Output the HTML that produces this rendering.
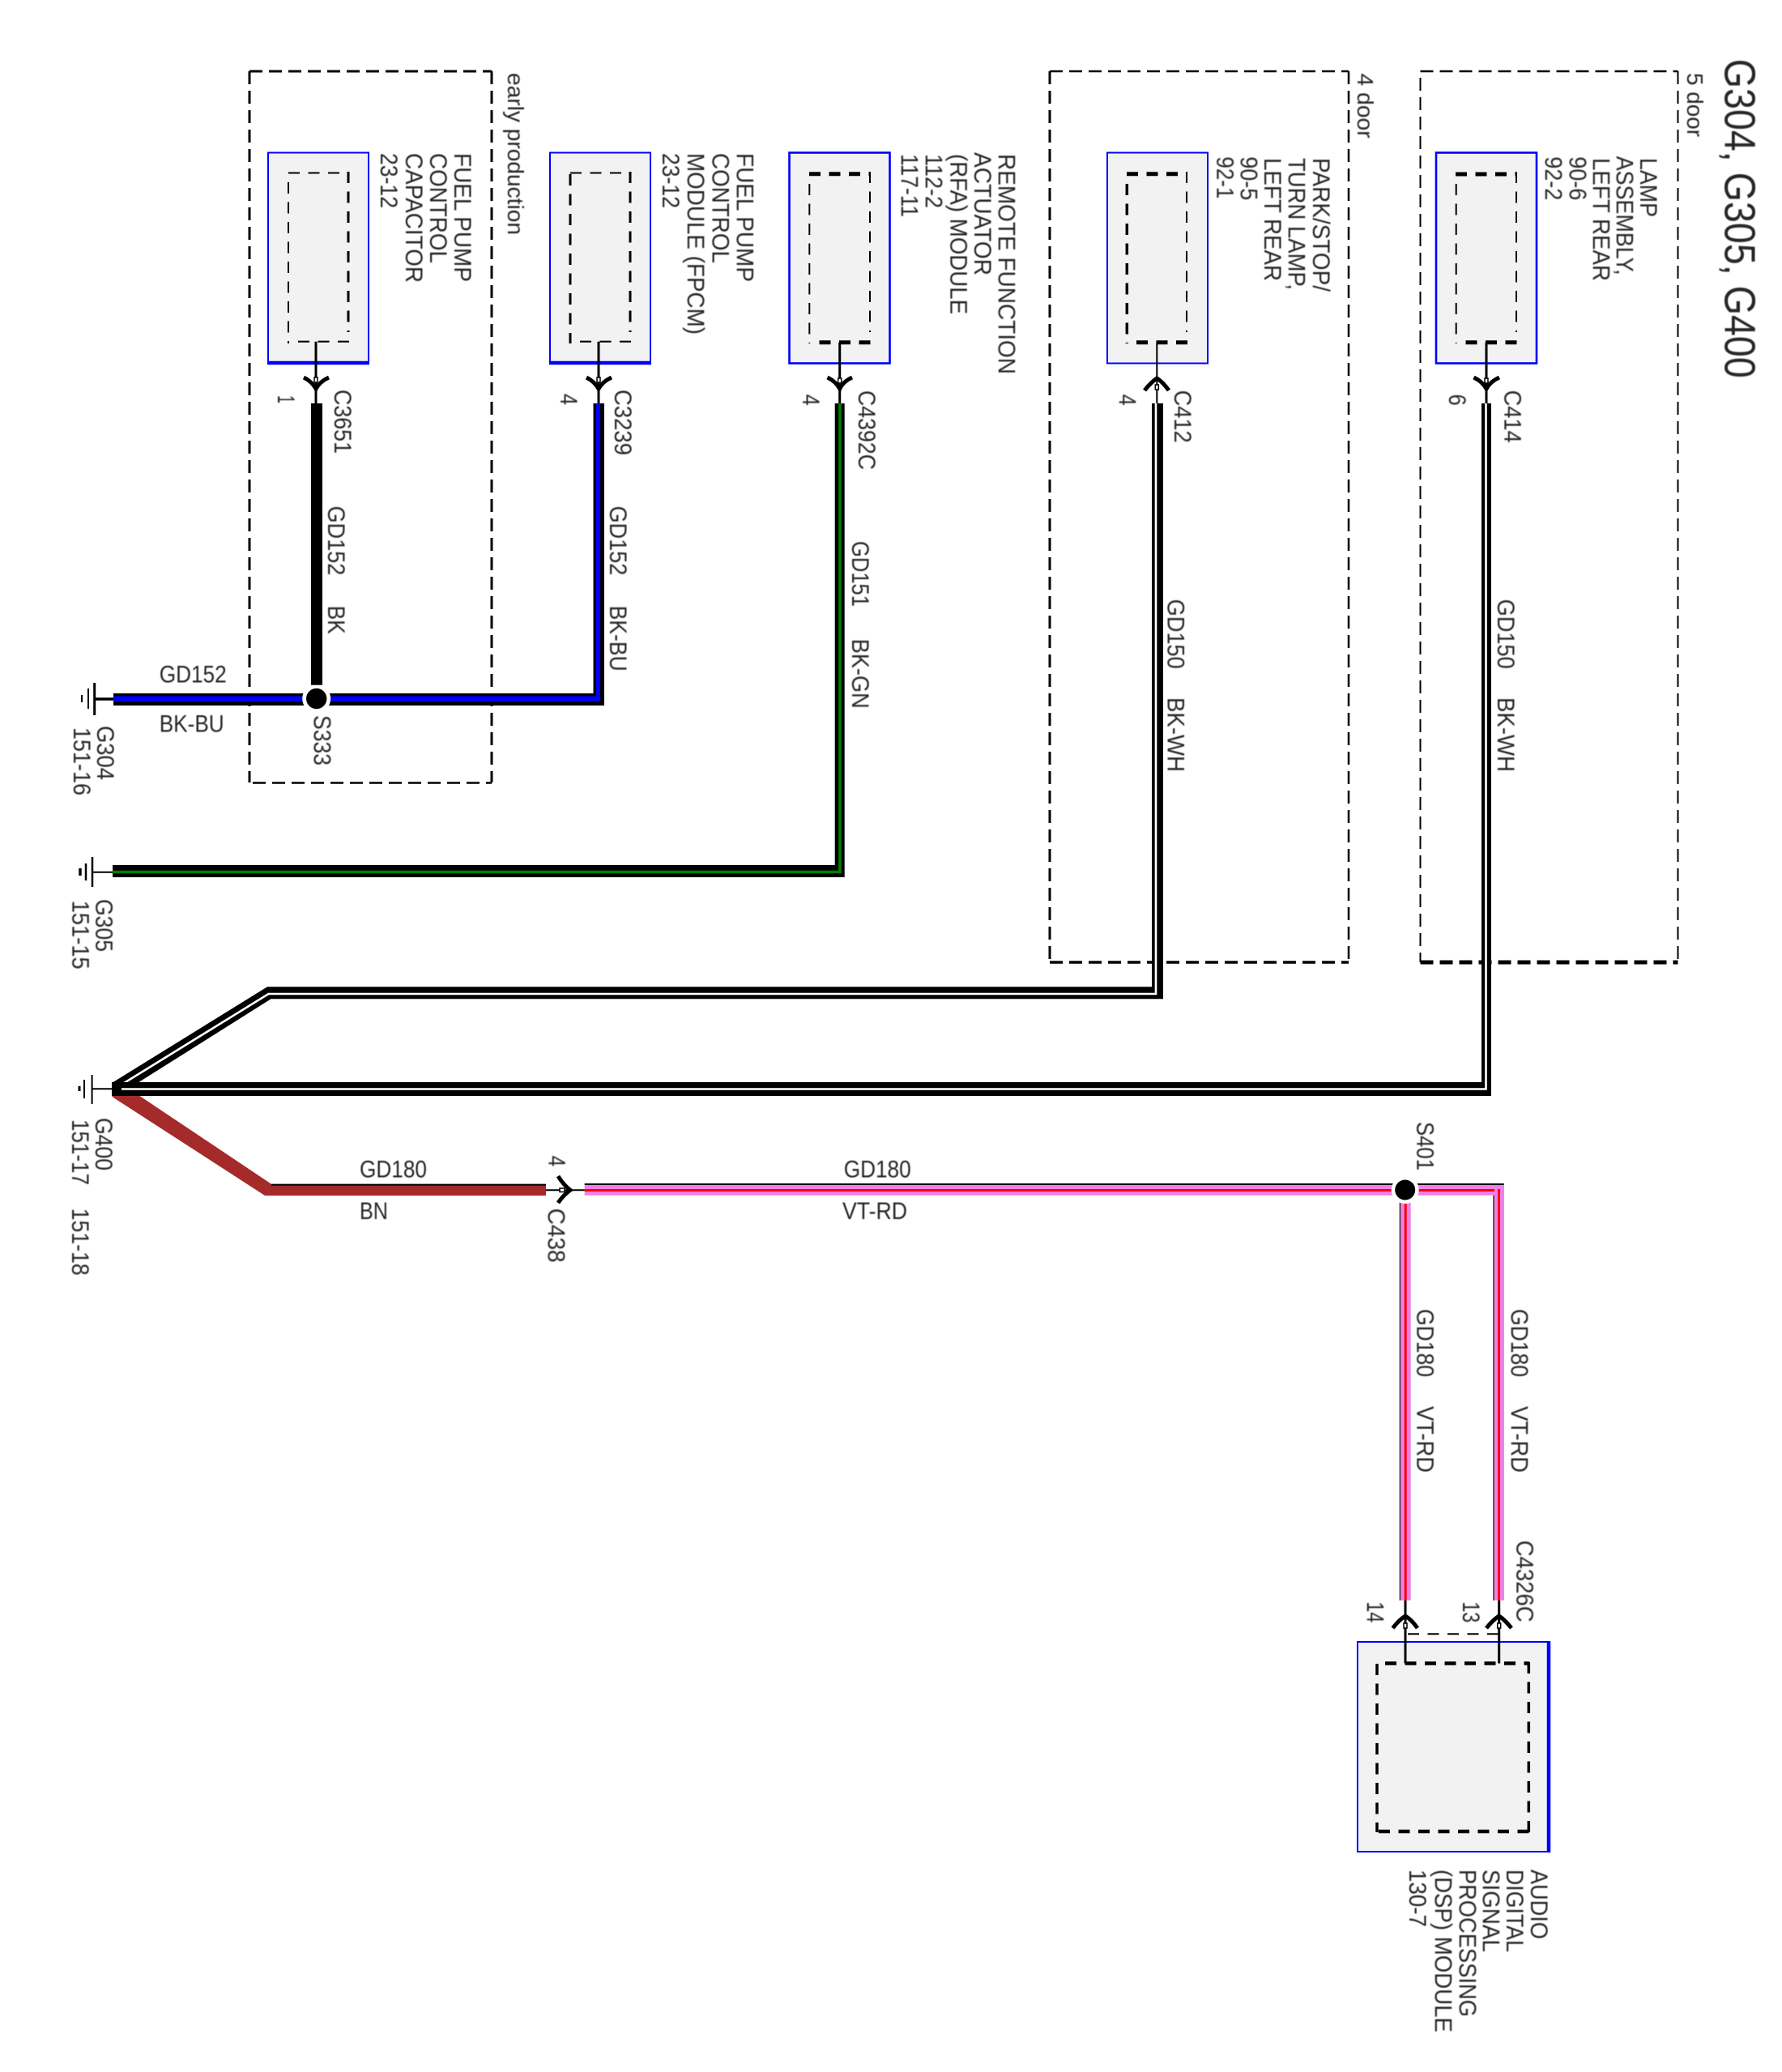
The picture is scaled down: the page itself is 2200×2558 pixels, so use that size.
<!DOCTYPE html>
<html><head><meta charset="utf-8"><title>G304, G305, G400</title>
<style>html,body{margin:0;padding:0;background:#fff}svg{display:block}text{font-family:"Liberation Sans",Arial,sans-serif;font-size:30px;fill:#262626;filter:blur(.4px)}</style>
</head><body>
<svg xmlns="http://www.w3.org/2000/svg" width="2200" height="2558" viewBox="0 0 2200 2558">
<rect width="2200" height="2558" fill="#fff"/>
<!-- option dashed boxes -->
<g fill="none" stroke="#000" stroke-dasharray="16 8">
<path d="M308,88H607" stroke-width="3"/><path d="M308,88V966" stroke-width="3"/><path d="M607,88V966" stroke-width="3"/><path d="M312,966.5H607" stroke-width="2.5"/>
<path d="M1296,88H1665" stroke-width="2.5"/><path d="M1296,88V1188" stroke-width="3"/><path d="M1665,88V1188" stroke-width="2.5"/><path d="M1296,1188H1665" stroke-width="3.5"/>
<path d="M1753.5,88H2071.5" stroke-width="2.5"/><path d="M1753.5,96V1188" stroke-width="2"/><path d="M2071.5,88V1188" stroke-width="2"/><path d="M1753.5,1188H2071.5" stroke-width="5"/>
</g>
<!-- modules -->
<g fill="#f2f2f2" stroke="#0000ff">
<rect x="331" y="188.5" width="124" height="260" stroke-width="2"/>
<rect x="679" y="188.5" width="124" height="260" stroke-width="2"/>
<rect x="974.5" y="188.5" width="124" height="260" stroke-width="2.6"/>
<rect x="1367" y="188.5" width="124" height="260" stroke-width="2"/>
<rect x="1773" y="188.5" width="124" height="260" stroke-width="2.6"/>
<rect x="1676" y="2027" width="237" height="259" stroke-width="2"/>
</g>
<path d="M330,448H456M678,448H804" stroke="#0000ff" stroke-width="4.5" fill="none"/>
<path d="M1912,2026V2287" stroke="#0000ff" stroke-width="4.5" fill="none"/>
<!-- inner dashed -->
<g fill="none" stroke="#000" stroke-dasharray="14 10.5">
<path d="M356,213.5H430" stroke-width="2"/><path d="M368,421.7H432" stroke-width="2.2"/><path d="M356,225V424" stroke-width="2"/><path d="M430,212V410" stroke-width="3"/>
<path d="M704,213.5H778" stroke-width="2"/><path d="M716,421.7H780" stroke-width="2.2"/><path d="M704,215V424" stroke-width="3"/><path d="M778,212V410" stroke-width="3"/>
<path d="M999,214.7H1074" stroke-width="5"/><path d="M1011.5,422.7H1076" stroke-width="5"/><path d="M999.3,227V424" stroke-width="2"/><path d="M1074,212V410" stroke-width="2"/>
<path d="M1391,214.7H1466" stroke-width="5"/><path d="M1403,422.7H1468" stroke-width="5"/><path d="M1391.3,227V424" stroke-width="3.5"/><path d="M1465,212V410" stroke-width="2"/>
<path d="M1797,215H1872" stroke-width="5"/><path d="M1809.5,422.7H1874" stroke-width="5"/><path d="M1797.7,227V424" stroke-width="2"/><path d="M1872,212V410" stroke-width="2"/>
<path d="M1710,2053.5H1888" stroke-width="4.5"/><path d="M1702,2261H1889" stroke-width="4.5"/><path d="M1700,2054V2262" stroke-width="3.5"/><path d="M1887.3,2052V2262" stroke-width="3.5"/>
<path d="M1738,2017.3H1850" stroke-width="2"/>
</g>
<!-- stems -->
<g fill="none" stroke="#000" stroke-width="3">
<path d="M390,421.7V498M739,421.7V498M1036.7,422.7V498M1835,422.7V498M1735,1975V2053.5M1850.7,1975V2053.5"/>
<path d="M1428.3,422.7V498" stroke-width="2"/>
<path d="M673,1469.3H722" stroke-width="2"/>
</g>
<!-- chevrons -->
<g fill="none" stroke="#000" stroke-width="5">
<path d="M375,466Q385,471 390,480Q395,471 406,466"/>
<path d="M724,466Q734,471 739,480Q744,471 755,466"/>
<path d="M1021.5,466Q1032,471 1036.7,480Q1041,471 1052,466"/>
<path d="M1819.5,466Q1830,471 1835,480Q1840,471 1851,466"/>
<path d="M1413,482Q1421,472 1428.3,467Q1436,472 1443,482"/>
<path d="M1719.5,2010Q1727,2000 1735,1995Q1743,2000 1750,2010"/>
<path d="M1835,2010Q1843,2000 1850.7,1995Q1858,2000 1866,2010"/>
<path d="M689,1452Q695,1462 704,1469.3Q695,1476 689,1485"/>
</g>
<g fill="#fff" stroke="#000" stroke-width="1.5">
<rect x="388" y="466" width="4" height="6"/><rect x="737" y="466" width="4" height="6"/><rect x="1034.7" y="467" width="4" height="6"/><rect x="1833" y="467" width="4" height="6"/>
<rect x="1426.3" y="475" width="4" height="6"/><rect x="1733" y="2004" width="4" height="6"/><rect x="1848.7" y="2004" width="4" height="6"/><rect x="691" y="1467" width="6" height="4.5"/>
</g>
<!-- grounds -->
<g stroke="#000" fill="none">
<path d="M109,850V875" stroke-width="2"/><path d="M116.7,843V883" stroke-width="3"/><path d="M101,858V867" stroke-width="2"/><path d="M117,863H140" stroke-width="3.5"/>
<path d="M114,1058V1095M106,1066V1087" stroke-width="2.5"/><path d="M99,1072V1081" stroke-width="3.5"/><path d="M114,1076.7H139" stroke-width="2"/>
<path d="M113.6,1327V1363M104,1333V1356" stroke-width="2"/><path d="M98,1341V1347" stroke-width="3"/><path d="M113.6,1344.3H139" stroke-width="2"/>
</g>
<!-- G400 wires -->
<polygon points="138,1338 138,1353 140,1355 327,1476 674,1476 674,1461.7 335,1461.7 171,1352 170,1340" fill="#a52a2a"/>
<rect x="335" y="1461.7" width="339" height="2" fill="#000"/>
<polygon points="1422,498 1436,498 1436,1233.3 334.5,1233.3 165,1340 138,1340 138,1337 330,1218.3 1422,1218.3" fill="#000"/>
<path d="M1427,498V1227H331.5L150,1339" fill="none" stroke="#fff" stroke-width="2.6"/>
<polygon points="1829,498 1841,498 1841,1353 138,1353 138,1336 1829,1336" fill="#000"/>
<path d="M1834.5,498V1344.5H150" fill="none" stroke="#fff" stroke-width="2.6"/>
<!-- G305 wire -->
<polygon points="139,1068 1030.7,1068 1030.7,498 1042.7,498 1042.7,1083 139,1083" fill="#000"/>
<path d="M139,1076.5H1037V498" fill="none" stroke="#008000" stroke-width="3.6"/>
<!-- G304 wires -->
<polygon points="140,856 732.5,856 732.5,498 746,498 746,871 140,871" fill="#000"/>
<rect x="140" y="859.5" width="601" height="6.5" fill="#0000ff"/>
<rect x="736" y="498" width="5" height="368" fill="#0000ff"/>
<circle cx="390.7" cy="862.5" r="17.5" fill="#fff"/>
<rect x="384" y="498" width="14" height="347.7" fill="#000"/>
<circle cx="390.7" cy="862.5" r="12.7" fill="#000"/>
<!-- pink wires -->
<rect x="721.7" y="1461" width="1135" height="2" fill="#000"/>
<rect x="721.7" y="1463" width="1135" height="12.7" fill="#f080e8"/>
<rect x="721.7" y="1468" width="1130" height="3" fill="#f00"/>
<rect x="1727.7" y="1469" width="14" height="506.7" fill="#f080e8"/>
<rect x="1727.7" y="1469" width="1.5" height="506.7" fill="#333"/>
<rect x="1733.7" y="1469" width="3" height="506.7" fill="#f00"/>
<rect x="1843.3" y="1476" width="13.7" height="499.7" fill="#f080e8"/>
<rect x="1845" y="1463" width="12" height="13" fill="#f080e8"/>
<rect x="1843.3" y="1475.7" width="1.5" height="500" fill="#333"/>
<rect x="1849" y="1468" width="3" height="507.7" fill="#f00"/>
<circle cx="1734.7" cy="1469" r="17" fill="#fff"/>
<circle cx="1734.7" cy="1469" r="12.5" fill="#000"/>
<!-- title -->
<text transform="translate(2129.5,72.7) rotate(90)" textLength="394" lengthAdjust="spacingAndGlyphs" style="font-size:54px">G304, G305, G400</text>
<!-- vertical labels -->
<g>
<text transform="translate(627,90) rotate(90)" textLength="200" lengthAdjust="spacingAndGlyphs" style="font-size:28px">early production</text>
<text transform="translate(1676,90.6) rotate(90)" textLength="80" lengthAdjust="spacingAndGlyphs" style="font-size:28px">4 door</text>
<text transform="translate(2083,90) rotate(90)" textLength="79" lengthAdjust="spacingAndGlyphs" style="font-size:28px">5 door</text>

<text transform="translate(561,189) rotate(90)" textLength="159" lengthAdjust="spacingAndGlyphs">FUEL PUMP</text>
<text transform="translate(531,189) rotate(90)" textLength="136" lengthAdjust="spacingAndGlyphs">CONTROL</text>
<text transform="translate(501,189) rotate(90)" textLength="160" lengthAdjust="spacingAndGlyphs">CAPACITOR</text>
<text transform="translate(470,189) rotate(90)" textLength="68" lengthAdjust="spacingAndGlyphs">23-12</text>

<text transform="translate(909.6,189) rotate(90)" textLength="159" lengthAdjust="spacingAndGlyphs">FUEL PUMP</text>
<text transform="translate(879.5,189) rotate(90)" textLength="136" lengthAdjust="spacingAndGlyphs">CONTROL</text>
<text transform="translate(848.8,189) rotate(90)" textLength="224" lengthAdjust="spacingAndGlyphs">MODULE (FPCM)</text>
<text transform="translate(818,189) rotate(90)" textLength="68" lengthAdjust="spacingAndGlyphs">23-12</text>

<text transform="translate(1232.7,190) rotate(90)" textLength="272" lengthAdjust="spacingAndGlyphs">REMOTE FUNCTION</text>
<text transform="translate(1203,188) rotate(90)" textLength="152" lengthAdjust="spacingAndGlyphs">ACTUATOR</text>
<text transform="translate(1173.3,190) rotate(90)" textLength="198" lengthAdjust="spacingAndGlyphs">(RFA) MODULE</text>
<text transform="translate(1142.7,190) rotate(90)" textLength="67" lengthAdjust="spacingAndGlyphs">112-2</text>
<text transform="translate(1112.7,190) rotate(90)" textLength="78" lengthAdjust="spacingAndGlyphs">117-11</text>

<text transform="translate(1621,195) rotate(90)" textLength="165" lengthAdjust="spacingAndGlyphs">PARK/STOP/</text>
<text transform="translate(1590.7,195) rotate(90)" textLength="163" lengthAdjust="spacingAndGlyphs">TURN LAMP,</text>
<text transform="translate(1561,195) rotate(90)" textLength="152" lengthAdjust="spacingAndGlyphs">LEFT REAR</text>
<text transform="translate(1531.7,193.3) rotate(90)" textLength="54" lengthAdjust="spacingAndGlyphs">90-5</text>
<text transform="translate(1502.3,193.3) rotate(90)" textLength="52" lengthAdjust="spacingAndGlyphs">92-1</text>

<text transform="translate(2025,195) rotate(90)" textLength="73" lengthAdjust="spacingAndGlyphs">LAMP</text>
<text transform="translate(1995.7,192.7) rotate(90)" textLength="147" lengthAdjust="spacingAndGlyphs">ASSEMBLY,</text>
<text transform="translate(1966.7,195) rotate(90)" textLength="152" lengthAdjust="spacingAndGlyphs">LEFT REAR</text>
<text transform="translate(1937.7,193.3) rotate(90)" textLength="54" lengthAdjust="spacingAndGlyphs">90-6</text>
<text transform="translate(1907.7,193.3) rotate(90)" textLength="54" lengthAdjust="spacingAndGlyphs">92-2</text>

<text transform="translate(1890,2308) rotate(90)" textLength="86" lengthAdjust="spacingAndGlyphs">AUDIO</text>
<text transform="translate(1860,2308) rotate(90)" textLength="102" lengthAdjust="spacingAndGlyphs">DIGITAL</text>
<text transform="translate(1830.7,2308) rotate(90)" textLength="102" lengthAdjust="spacingAndGlyphs">SIGNAL</text>
<text transform="translate(1801.7,2308) rotate(90)" textLength="182" lengthAdjust="spacingAndGlyphs">PROCESSING</text>
<text transform="translate(1771.7,2308) rotate(90)" textLength="201" lengthAdjust="spacingAndGlyphs">(DSP) MODULE</text>
<text transform="translate(1740,2308) rotate(90)" textLength="71" lengthAdjust="spacingAndGlyphs">130-7</text>

<text transform="translate(413,481) rotate(90)" textLength="79" lengthAdjust="spacingAndGlyphs">C3651</text>
<text transform="translate(343,488) rotate(90)" textLength="10" lengthAdjust="spacingAndGlyphs">1</text>
<text transform="translate(759,481) rotate(90)" textLength="81" lengthAdjust="spacingAndGlyphs">C3239</text>
<text transform="translate(692,486) rotate(90)" textLength="14" lengthAdjust="spacingAndGlyphs">4</text>
<text transform="translate(1060,482) rotate(90)" textLength="98" lengthAdjust="spacingAndGlyphs">C4392C</text>
<text transform="translate(991,486.7) rotate(90)" textLength="14" lengthAdjust="spacingAndGlyphs">4</text>
<text transform="translate(1450,481.7) rotate(90)" textLength="65" lengthAdjust="spacingAndGlyphs">C412</text>
<text transform="translate(1381.7,486.7) rotate(90)" textLength="14" lengthAdjust="spacingAndGlyphs">4</text>
<text transform="translate(1857.3,481.7) rotate(90)" textLength="65" lengthAdjust="spacingAndGlyphs">C414</text>
<text transform="translate(1789,486.7) rotate(90)" textLength="14" lengthAdjust="spacingAndGlyphs">6</text>

<text transform="translate(405,624.6) rotate(90)" textLength="85.7" lengthAdjust="spacingAndGlyphs">GD152</text>
<text transform="translate(405,747.7) rotate(90)" textLength="35" lengthAdjust="spacingAndGlyphs">BK</text>
<text transform="translate(753,624.6) rotate(90)" textLength="85.7" lengthAdjust="spacingAndGlyphs">GD152</text>
<text transform="translate(753,747.7) rotate(90)" textLength="81" lengthAdjust="spacingAndGlyphs">BK-BU</text>
<text transform="translate(1052,668) rotate(90)" textLength="81" lengthAdjust="spacingAndGlyphs">GD151</text>
<text transform="translate(1052,788.7) rotate(90)" textLength="86" lengthAdjust="spacingAndGlyphs">BK-GN</text>
<text transform="translate(1441.5,739.7) rotate(90)" textLength="86" lengthAdjust="spacingAndGlyphs">GD150</text>
<text transform="translate(1441.5,861) rotate(90)" textLength="92" lengthAdjust="spacingAndGlyphs">BK-WH</text>
<text transform="translate(1849,739.7) rotate(90)" textLength="86" lengthAdjust="spacingAndGlyphs">GD150</text>
<text transform="translate(1849,861) rotate(90)" textLength="92" lengthAdjust="spacingAndGlyphs">BK-WH</text>

<text transform="translate(120,896) rotate(90)" textLength="67" lengthAdjust="spacingAndGlyphs">G304</text>
<text transform="translate(91,898) rotate(90)" textLength="84" lengthAdjust="spacingAndGlyphs">151-16</text>
<text transform="translate(118.3,1110) rotate(90)" textLength="65" lengthAdjust="spacingAndGlyphs">G305</text>
<text transform="translate(89.3,1111.7) rotate(90)" textLength="85" lengthAdjust="spacingAndGlyphs">151-15</text>
<text transform="translate(118,1380) rotate(90)" textLength="65" lengthAdjust="spacingAndGlyphs">G400</text>
<text transform="translate(89,1382) rotate(90)" textLength="81" lengthAdjust="spacingAndGlyphs">151-17</text>
<text transform="translate(89,1491.7) rotate(90)" textLength="83" lengthAdjust="spacingAndGlyphs">151-18</text>
<text transform="translate(387.7,883) rotate(90)" textLength="62" lengthAdjust="spacingAndGlyphs">S333</text>
<text transform="translate(1749.3,1385) rotate(90)" textLength="60" lengthAdjust="spacingAndGlyphs">S401</text>
<text transform="translate(676.7,1491.7) rotate(90)" textLength="67" lengthAdjust="spacingAndGlyphs">C438</text>
<text transform="translate(677.3,1426.7) rotate(90)" textLength="13.5" lengthAdjust="spacingAndGlyphs">4</text>
<text transform="translate(1749.3,1616) rotate(90)" textLength="84" lengthAdjust="spacingAndGlyphs">GD180</text>
<text transform="translate(1749.3,1736) rotate(90)" textLength="82" lengthAdjust="spacingAndGlyphs">VT-RD</text>
<text transform="translate(1865.7,1616) rotate(90)" textLength="84" lengthAdjust="spacingAndGlyphs">GD180</text>
<text transform="translate(1865.7,1736) rotate(90)" textLength="82" lengthAdjust="spacingAndGlyphs">VT-RD</text>
<text transform="translate(1872.3,1901.7) rotate(90)" textLength="101" lengthAdjust="spacingAndGlyphs">C4326C</text>
<text transform="translate(1687.7,1977.3) rotate(90)" textLength="26" lengthAdjust="spacingAndGlyphs">14</text>
<text transform="translate(1806,1977.3) rotate(90)" textLength="26" lengthAdjust="spacingAndGlyphs">13</text>
</g>
<!-- horizontal labels -->
<text x="196.7" y="842.3" textLength="83" lengthAdjust="spacingAndGlyphs">GD152</text>
<text x="196.7" y="903.3" textLength="80" lengthAdjust="spacingAndGlyphs">BK-BU</text>
<text x="444" y="1453.5" textLength="83" lengthAdjust="spacingAndGlyphs">GD180</text>
<text x="444" y="1505" textLength="35" lengthAdjust="spacingAndGlyphs">BN</text>
<text x="1041.7" y="1453.5" textLength="83" lengthAdjust="spacingAndGlyphs">GD180</text>
<text x="1040" y="1505" textLength="80" lengthAdjust="spacingAndGlyphs">VT-RD</text>
</svg>
</body></html>
